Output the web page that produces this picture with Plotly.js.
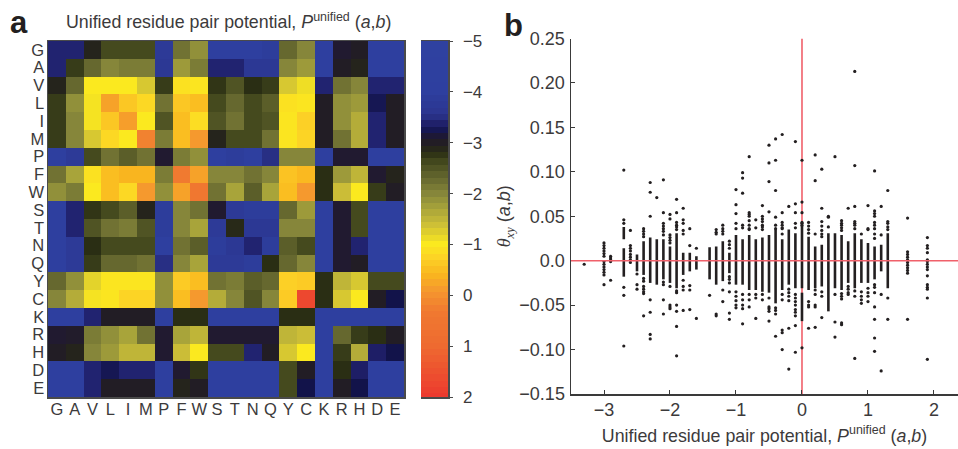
<!DOCTYPE html>
<html><head><meta charset="utf-8">
<script src="https://cdn.plot.ly/plotly-3.0.1.min.js"></script>
<style>html,body{margin:0;padding:0;background:#fff}#c{width:958px;height:449px}</style>
</head><body><div id="c"></div>
<script>
const residues = ["G","A","V","L","I","M","P","F","W","S","T","N","Q","Y","C","K","R","H","D","E"];
const potentialRows = [
[-3.4,-3.4,-2.9,-2.6,-2.6,-2.6,-3.8,-2.2,-1.9,-4,-4,-4,-3.9,-2.3,-2,-4,-3.1,-3.0,-4.2,-4.2],
[-3.4,-2.7,-2.3,-2,-2.1,-2.1,-3.7,-1.8,-2.1,-3.4,-3.4,-3.7,-3.7,-2,-1.8,-4,-3.0,-2.9,-4.2,-4.2],
[-2.9,-2.3,-1,-1,-1,-1.3,-2.7,-0.9,-0.95,-2.75,-2.5,-2.8,-2.7,-1.3,-1.1,-3.4,-2.2,-2.0,-3.4,-3.4],
[-2.7,-1.9,-1.05,-0.2,-0.6,-0.8,-2.2,-0.6,-0.5,-2.6,-2.3,-2.6,-2.4,-0.9,-0.95,-3.0,-1.9,-1.8,-3.25,-3.0],
[-2.7,-2.0,-1.05,-0.6,-0.15,-1,-2.5,-0.5,-0.85,-2.5,-2.2,-2.6,-2.5,-0.95,-0.7,-3,-1.9,-1.6,-3.4,-3.0],
[-2.7,-2,-1.3,-0.8,-1,0.2,-2.1,-0.5,-0.1,-2.9,-2.6,-2.6,-2.2,-0.95,-0.75,-3,-2.2,-1.6,-3.4,-3.0],
[-4,-3.8,-2.6,-2.2,-2.4,-2.2,-3.1,-2.1,-1.9,-4,-3.9,-4.1,-3.5,-2,-2,-4.1,-3.1,-3.1,-4.1,-4.1],
[-2.2,-1.7,-0.9,-0.5,-0.4,-0.4,-2.1,0.3,-0.2,-2,-2,-2.2,-2,-0.55,-0.45,-2.8,-1.8,-1.5,-3.1,-2.9],
[-1.9,-2.1,-1,-0.5,-0.8,-0.1,-1.9,-0.2,0.45,-2.2,-1.7,-2.4,-1.7,-0.5,-0.1,-2.8,-1.4,-1.0,-2.7,-3.0],
[-4.1,-3.4,-2.75,-2.6,-2.4,-2.9,-3.9,-2,-2.2,-3.1,-3.8,-3.9,-3.9,-2.3,-1.8,-4,-3.1,-2.6,-4.1,-4.1],
[-4,-3.4,-2.5,-2.2,-2.1,-2.5,-3.9,-2,-1.7,-3.8,-2.85,-3.7,-3.7,-2,-2.0,-4,-3.1,-2.6,-4.1,-4.1],
[-4,-3.8,-2.8,-2.6,-2.6,-2.6,-4.2,-2.2,-2.4,-3.9,-3.7,-3.4,-3.9,-2.4,-2.6,-4,-3.1,-3.4,-4.1,-4.1],
[-4,-3.8,-2.7,-2.3,-2.3,-2.2,-3.5,-2,-1.7,-3.8,-3.8,-3.9,-2.8,-2.3,-2,-4,-3.1,-3.0,-4,-4],
[-2.3,-1.9,-1.2,-0.95,-0.95,-0.95,-1.9,-0.65,-0.5,-2.2,-2.1,-2.4,-2.3,-0.7,-0.65,-2.8,-1.5,-1.3,-2.6,-2.6],
[-2.0,-1.6,-1.05,-0.95,-0.75,-0.75,-1.9,-0.5,-0.1,-1.6,-2.0,-2.5,-2.0,-0.65,1.7,-2.8,-1.3,-1,-3.0,-3.2],
[-4.1,-4.1,-3.4,-3,-3,-3,-4.1,-2.8,-2.8,-4,-4.1,-4.1,-4.1,-2.8,-2.8,-4.1,-4.1,-4.1,-4.1,-4.1],
[-3.1,-3.05,-2.1,-1.9,-1.7,-2.2,-3.1,-1.7,-1.5,-3.1,-3.1,-3.1,-3.1,-1.5,-1.4,-4.1,-2.3,-2.7,-2.8,-3],
[-3.0,-2.9,-2,-1.8,-1.5,-1.5,-3.1,-1.4,-1.0,-2.6,-2.6,-3.4,-3.0,-1.3,-1.0,-4.1,-2.7,-1.6,-3.35,-3.2],
[-4.2,-4.2,-3.4,-3.25,-3.4,-3.4,-4.1,-3.1,-2.75,-4.1,-4.1,-4.1,-4.1,-2.6,-3.0,-4.1,-2.8,-3.35,-4.2,-4.2],
[-4.2,-4.2,-3.4,-3,-3,-3,-4.1,-2.9,-3,-4.1,-4.1,-4.1,-4.1,-2.6,-3.2,-4.1,-3,-3.2,-4.2,-4.2]
];
const colourStops = [
[-5,"#2f41a0"],[-4,"#2e3f9f"],[-3.55,"#2b348e"],[-3.35,"#1e1e66"],[-3.2,"#12134a"],[-3.1,"#211a30"],
[-2.95,"#231f20"],[-2.8,"#2a2e14"],[-2.6,"#454a1e"],[-2.3,"#66682f"],[-2,"#86863a"],[-1.7,"#a8a43a"],
[-1.4,"#cbbd37"],[-1,"#fbe91f"],[-0.7,"#fcd026"],[-0.4,"#f9b51f"],[-0.1,"#f5992e"],[0.3,"#f07a30"],
[1,"#ee6a30"],[2,"#ec3a2e"]];
const scaleTicks = [-5,-4,-3,-2,-1,0,1,2];

const denseX    = [-2.7,-2.7,-2.5,-2.4,-2.3,-2.2,-2.1,-2,-1.9,-1.8,-1.7,-1.6,-1.4,-1.3,-1.2,-1.1,-1,-0.9,-0.8,-0.7,-0.6,-0.5,-0.4,-0.3,-0.2,-0.1,0,0,0.1,0.2,0.3,0.4,0.5,0.6,0.7,0.8,0.9,1,1.1,1.2,1.3];
const denseHigh = [.038,.014,.007,.022,.026,.024,.024,.016,.031,.009,.009,.005,.015,.016,.022,.009,.029,.024,.029,.024,.026,.029,.035,.024,.035,.031,.039,-.036,.027,.016,.018,.031,.031,.029,.022,.031,.024,.02,.016,.018,.031];
const denseLow  = [.024,-.018,-.012,-.016,-.025,-.027,-.021,-.025,-.031,-.016,-.012,-.01,-.021,-.027,-.023,-.014,-.027,-.027,-.033,-.033,-.035,-.036,-.048,-.033,-.027,-.031,-.031,-.068,-.033,-.031,-.029,-.057,-.031,-.033,-.025,-.031,-.025,-.025,-.021,-.012,-.031];

const pointColumns = [-3.3,-3,-2.9,-2.7,-2.6,-2.5,-2.4,-2.3,-2.2,-2.1,-2,-1.9,-1.8,-1.7,-1.6,-1.4,-1.3,-1.2,-1.1,-1,-0.9,-0.8,-0.7,-0.6,-0.5,-0.4,-0.3,-0.2,-0.1,0,0.1,0.2,0.3,0.4,0.5,0.6,0.7,0.8,0.9,1,1.1,1.2,1.3,1.6,1.9];
const pointValues = [
[-.004],
[.02,.017,.014,.011,.008,.005,-.001,-.004,-.007,-.01,-.013,-.016,-.027],
[.005,.003,.001,-.001,-.022],
[.102,.046,.042,-.03,-.039,-.096],
[.034,.017,.014,.011,.007,.004,.001,-.002],
[-.015,-.027,-.032],
[.036,.033,.03,.027,-.02,-.023,-.029,-.032,-.035,-.037,-.062],
[.088,.077,.05,-.044,-.058,-.083,-.088],
[.071],
[.091,.054,.042,.039,.036,.033,.029,-.024,-.027,-.044,-.06],
[.052,.047,.029,.026,.023,.02,-.029,-.05,-.052,-.054],
[.069,.054,.043,.04,.038,.035,-.034,-.036,-.05,-.057,-.074,-.107],
[.059,.046,.042,.034,.03,-.022,-.029,-.033,-.056],
[.036,.017,-.028,-.033,-.055],
[.014,-.065],
[-.039],
[.035,.032,.03,-.06,-.062],
[.04,.036,.033,.03,-.033,-.046],
[.022,.018,.014,-.018,-.021,-.025,-.035,-.059,-.066],
[.08,.063,.053,.042,.036,-.035,-.04,-.045,-.05,-.053],
[.099,.093,.076,.04,.037,-.038,-.044,-.05,-.054,-.071],
[.117,.054,.052,.05,.045,.04,.036,.035,-.038,-.044,-.052],
[.046,.037,-.038,-.042,-.065],
[.062,.05,.047,.044,.04,.038,.035,-.038,-.044],
[.13,.11,.089,.055,-.042,-.052,-.054,-.057,-.068],
[.137,.113,.079,.049,.04,.036,-.053,-.056,-.06,-.085],
[.142,.054,.043,.04,.037,.036,.03,-.038,-.044,-.078,-.081,-.1],
[.061,-.032,-.036,-.04,-.045,-.076,-.122],
[.134,.064,.054,.042,.037,-.038,-.042,-.046,-.05,-.055,-.058,-.062,-.073,-.103],
[.113,.066,.054,.043,.042,.04,-.098],
[.043,.039,.035,.031,-.046,-.05,-.052,-.076],
[.119,.09,.03,-.033,-.038,-.05,-.052,-.075],
[.103,.059,.044,.039,.034,.03,.027,-.035,-.04,-.064],
[.05,.049,.038],
[.117,-.038,-.069,-.086],
[.045,.042,.04,.037,.034,-.037,-.04,-.043,-.07,-.072],
[.059,-.029,-.032,-.036,-.038],
[.213,.107,.061,.044,.042,.04,.036,-.034,-.04,-.11],
[.03,-.035,-.04,-.044,-.048],
[.062,.036,.035,-.031,-.036,-.04,-.046],
[.101,.056,.053,.05,.043,.04,.036,.03,.025,-.027,-.03,-.036,-.052,-.066,-.087,-.102],
[.061,.029,-.038,-.124],
[.079,.044,.042,.038,.035,-.042,-.066],
[.048,.01,.007,.004,.001,-.002,-.005,-.008,-.011,-.014,-.066],
[.026,.017,.014,.009,.001,-.001,-.004,-.007,-.01,-.017,-.027,-.03,-.032,-.042,-.111]
];
const xTicks = [-3,-2,-1,0,1,2];
const yTicks = [.25,.2,.15,.1,.05,0,-.05,-.1,-.15];
const yTickLabels = ["0.25","0.20","0.15","0.10","0.05","0.0","\u22120.05","\u22120.10","\u22120.15"];

const W=958,H=449;
const dx=(a,b)=>[a/W,b/W], dy=(top,bot)=>[1-bot/H,1-top/H];
const zMin=-5,zMax=2;
const colorscale=colourStops.map(s=>[(s[0]-zMin)/(zMax-zMin),s[1]]);
const levels=[];for(let i=0;i<=56;i++)levels.push(zMin+i*0.125);
const segX=[],segY=[];
denseX.forEach((x,i)=>{segX.push(x,x,null);segY.push(denseHigh[i],denseLow[i],null);});
const ptX=[],ptY=[];
pointColumns.forEach((x,i)=>pointValues[i].forEach(v=>{ptX.push(x);ptY.push(v);}));

const ink="#231f20",txt="#3c3a3b",font="Liberation Sans, Arial, sans-serif";
const potentialLabel="Unified residue pair potential, <i>P</i><sup>unified</sup> (<i>a</i>,<i>b</i>)";
const data=[
 {type:"heatmap",x:residues,y:residues,z:potentialRows,zmin:zMin,zmax:zMax,colorscale,showscale:false,xaxis:"x",yaxis:"y",hoverinfo:"skip"},
 {type:"heatmap",x:[0],y:levels,z:levels.map(v=>[v]),zmin:zMin,zmax:zMax,colorscale,showscale:false,xaxis:"x2",yaxis:"y2",hoverinfo:"skip"},
 {type:"scatter",mode:"lines",x:segX,y:segY,line:{color:ink,width:2.6},xaxis:"x3",yaxis:"y3",hoverinfo:"skip",showlegend:false},
 {type:"scatter",mode:"markers",x:ptX,y:ptY,marker:{color:ink,size:3.2},xaxis:"x3",yaxis:"y3",hoverinfo:"skip",showlegend:false}
];
const frame={showline:true,mirror:true,linecolor:"#4a4a4a",linewidth:1.5,showgrid:false,zeroline:false};
const layout={
 width:W,height:H,margin:{l:0,r:0,t:0,b:0},paper_bgcolor:"#fff",plot_bgcolor:"#fff",showlegend:false,
 font:{family:font,color:txt,size:16},
 xaxis:{...frame,domain:dx(48,404),type:"category",tickmode:"array",tickvals:residues,ticktext:residues,ticks:"",side:"bottom",tickfont:{size:16.5,color:txt},ticklabelstandoff:-3,anchor:"y"},
 yaxis:{...frame,domain:dy(41,397),type:"category",autorange:"reversed",tickmode:"array",tickvals:residues,ticktext:residues,ticks:"",tickfont:{size:16.5,color:txt},ticklabelstandoff:-1,anchor:"x"},
 xaxis2:{...frame,domain:dx(421,448),range:[-0.5,0.5],showticklabels:false,ticks:"",anchor:"y2"},
 yaxis2:{...frame,mirror:false,domain:dy(41,397),range:[2,-5],side:"right",tickmode:"array",tickvals:scaleTicks,ticks:"outside",ticklen:3,tickcolor:"#4a4a4a",tickfont:{size:17,color:txt},ticklabelstandoff:7,anchor:"x2"},
 xaxis3:{domain:dx(571,958),range:[-3.5,2.364],showline:true,linecolor:"#3a3a3a",linewidth:1.5,showgrid:false,zeroline:false,tickmode:"array",tickvals:xTicks,ticks:"inside",ticklen:4,tickcolor:"#3a3a3a",tickfont:{size:18,color:txt},ticklabelstandoff:-1,anchor:"y3",
   title:{text:potentialLabel,font:{size:17.8,color:txt},standoff:10}},
 yaxis3:{domain:dy(38.5,394),range:[-.15,.25],showline:true,linecolor:"#3a3a3a",linewidth:1.5,showgrid:false,zeroline:false,tickmode:"array",tickvals:yTicks,ticktext:yTickLabels,ticks:"inside",ticklen:4,tickcolor:"#3a3a3a",tickfont:{size:18,color:txt},ticklabelstandoff:1,anchor:"x3",
   title:{text:"<span style=\"font-family:'Liberation Serif',serif\"><i>\u03b8<sub>xy</sub></i></span> (<i>a</i>,<i>b</i>)",font:{size:18,color:txt},standoff:4}},
 shapes:[
  {type:"line",xref:"x3",yref:"y3",x0:0,x1:0,y0:-.15,y1:.25,line:{color:"#f0606a",width:1.6},layer:"below"},
  {type:"line",xref:"x3",yref:"y3",x0:-3.5,x1:2.364,y0:0,y1:0,line:{color:"#f0606a",width:1.6},layer:"above"}
 ],
 annotations:[
  {xref:"paper",yref:"paper",x:8/W,y:1-22/H,xanchor:"left",yanchor:"middle",text:"<b>a</b>",showarrow:false,font:{size:31,color:ink}},
  {xref:"paper",yref:"paper",x:502/W,y:1-25/H,xanchor:"left",yanchor:"middle",text:"<b>b</b>",showarrow:false,font:{size:31,color:ink}},
  {xref:"paper",yref:"paper",x:64/W,y:1-21/H,xanchor:"left",yanchor:"middle",text:potentialLabel,showarrow:false,font:{size:17.8,color:txt}}
 ]
};
Plotly.newPlot("c",data,layout,{displayModeBar:false,staticPlot:true});
</script></body></html>
